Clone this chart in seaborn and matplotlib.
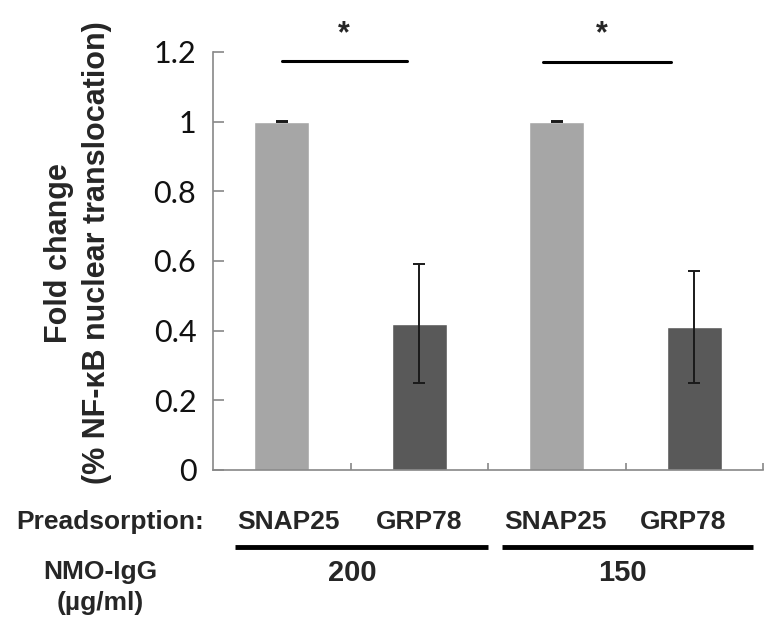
import matplotlib
matplotlib.use('Agg')
import matplotlib.pyplot as plt
import seaborn as sns
import pandas as pd

# values
groups = ['SNAP25 200', 'GRP78 200', 'SNAP25 150', 'GRP78 150']
fold_change = [1.0, 0.42, 1.0, 0.41]
sem = [0.002, 0.17, 0.002, 0.16]
bar_colors = ['#a6a6a6', '#595959', '#a6a6a6', '#595959']

preads_labels = ['SNAP25', 'GRP78', 'SNAP25', 'GRP78']
preads_x = [0.05, 1.0, 1.99, 2.92]
dose_labels = ['200', '150']
dose_x = [0.51, 2.48]
dose_spans = [(-0.34, 1.5), (1.6, 3.43)]
sig_spans = [(0.0, 0.91), (1.9, 2.83)]
sig_y = [1.175, 1.172]
star_x = [0.45, 2.33]

df = pd.DataFrame({'group': groups, 'fold': fold_change})

sns.set_style('white')
fig = plt.figure(figsize=(7.82, 6.37), dpi=100)
ax = fig.add_axes([0.2724, 0.2622, 0.7033, 0.6562])

sns.barplot(data=df, x='group', y='fold', hue='group', palette=bar_colors,
            width=0.4, errorbar=None, legend=False, ax=ax, saturation=1)
ax.errorbar(range(len(groups)), fold_change, yerr=sem, fmt='none',
            ecolor='#1a1a1a', elinewidth=1.4, capsize=4.5, capthick=1.4)

ax.set_xlim(-0.5, 3.5)
ax.set_ylim(0, 1.2)
ax.set_yticks([0, 0.2, 0.4, 0.6, 0.8, 1.0, 1.2])
ax.set_yticklabels(['0', '0.2', '0.4', '0.6', '0.8', '1', '1.2'],
                   family='Lato', fontsize=22)
ax.set_xticks([])
ax.set_xticks([0.5, 1.5, 2.5, 3.5], minor=True)
ax.tick_params(axis='x', which='minor', direction='in', length=5,
               color='#888888', width=1.2, bottom=True)
ax.tick_params(axis='y', direction='in', length=8, color='#888888',
               width=1.2, left=True, pad=12, labelcolor='#111111')
ax.set_xlabel('')
ax.set_ylabel('')
for side in ['top', 'right']:
    ax.spines[side].set_visible(False)
for side in ['left', 'bottom']:
    ax.spines[side].set_color('#888888')
    ax.spines[side].set_linewidth(1.2)

# significance bars
for (x0, x1), y, sx in zip(sig_spans, sig_y, star_x):
    ax.plot([x0, x1], [y, y], color='black', lw=2.2, clip_on=False)
    ax.text(sx, 1.25, '*', ha='center', va='center', fontsize=22,
            fontweight='bold', family='Liberation Sans', clip_on=False)

# labels under the axis
xt = ax.get_xaxis_transform()
for lab, x in zip(preads_labels, preads_x):
    ax.text(x, -0.124, lab, transform=xt, ha='center', va='center',
            fontsize=19, fontweight='bold', family='Liberation Sans')
for (x0, x1) in dose_spans:
    ax.plot([x0, x1], [-0.184, -0.184], transform=xt, color='black',
            lw=3.5, clip_on=False, solid_capstyle='butt')
for lab, x in zip(dose_labels, dose_x):
    ax.text(x, -0.246, lab, transform=xt, ha='center', va='center',
            fontsize=21, fontweight='bold', family='Liberation Sans')

fig.text(0.261, 0.1805, 'Preadsorption:', ha='right', va='center',
         fontsize=19, fontweight='bold', family='Liberation Sans')
fig.text(0.128, 0.078, 'NMO-IgG\n(\u00b5g/ml)', ha='center', va='center',
         fontsize=19, fontweight='bold', family='Liberation Sans',
         multialignment='center', linespacing=1.35)
fig.text(0.100, 1 - 253 / 637, 'Fold change\n(% NF-\u03baB nuclear translocation)',
         rotation=90, ha='center', va='center', multialignment='center',
         fontsize=22, fontweight='bold', family='Liberation Sans',
         linespacing=1.35)

fig.savefig('out.png', dpi=100)
